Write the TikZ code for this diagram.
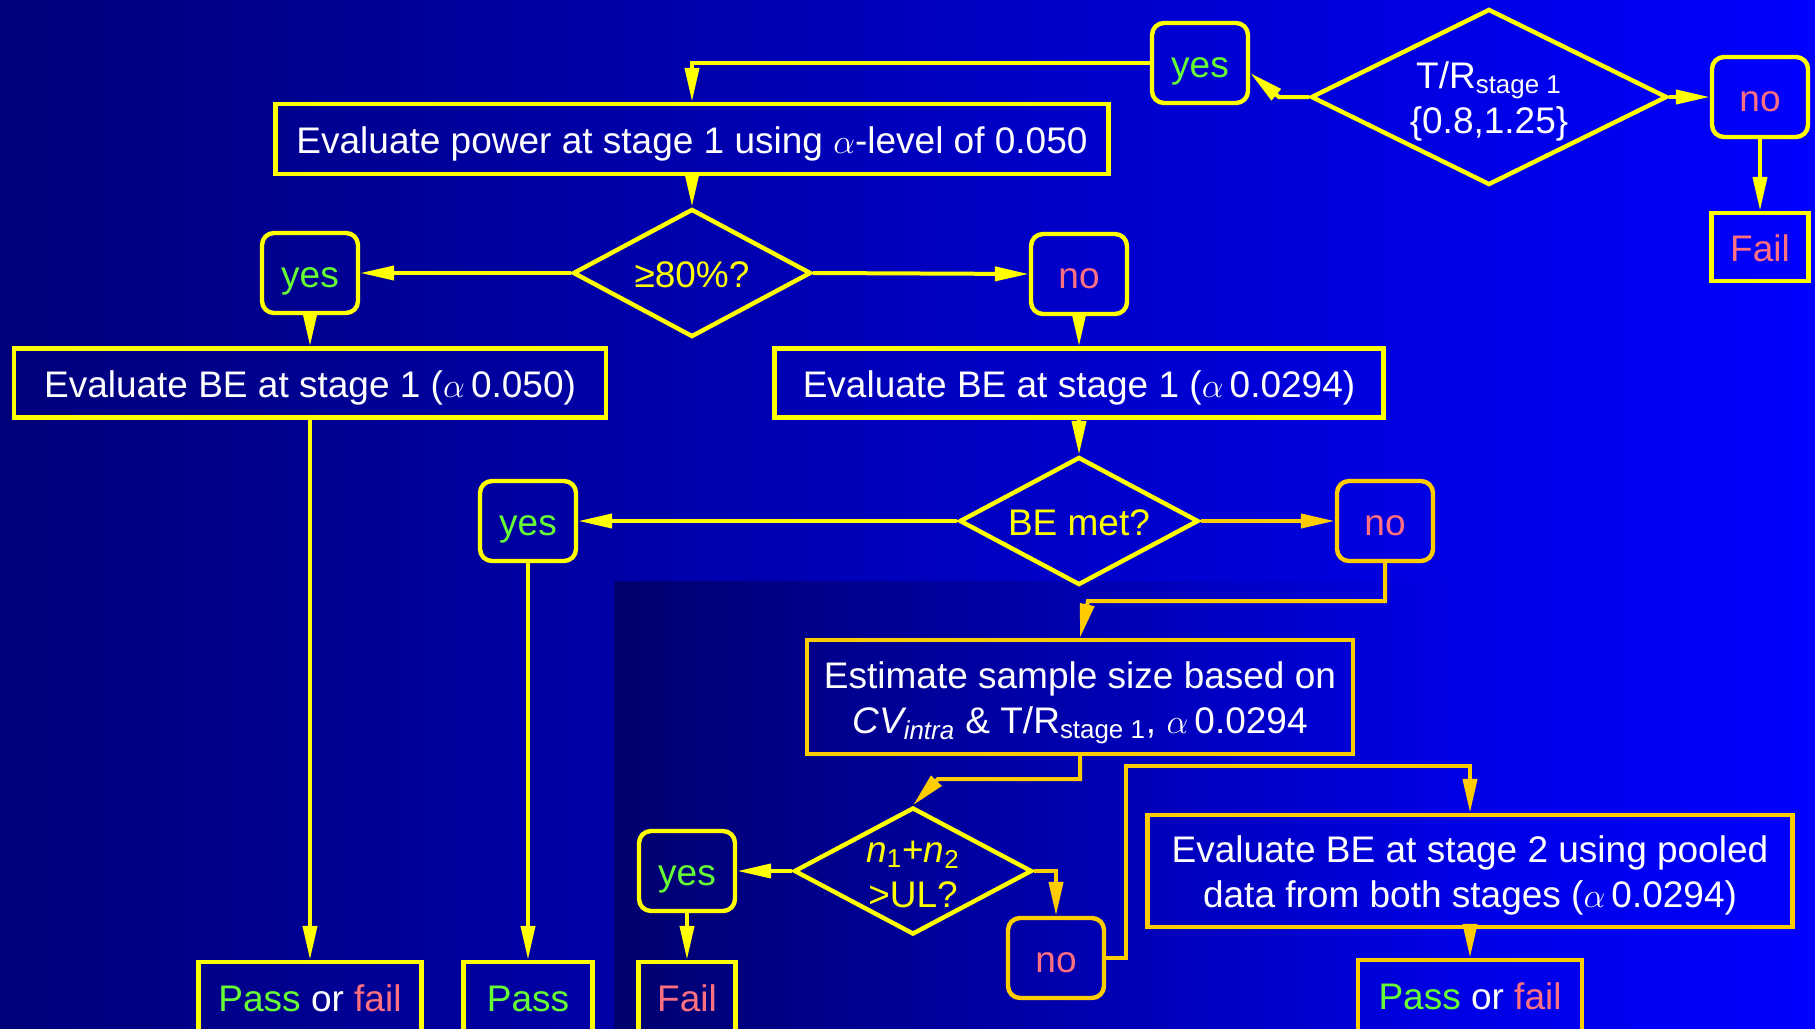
\documentclass[tikz,border=0pt]{standalone}
\usepackage{fontspec}
\setmainfont{Liberation Sans}
\usetikzlibrary{shapes.geometric,arrows.meta}

\definecolor{bgleft}{RGB}{0,0,122}
\definecolor{bgright}{RGB}{0,0,255}
\definecolor{insetleft}{RGB}{0,0,110}
\definecolor{insetright}{RGB}{0,0,232}
\definecolor{yel}{RGB}{255,255,0}
\definecolor{gold}{RGB}{255,204,0}
\definecolor{okgreen}{RGB}{102,255,51}
\definecolor{nopink}{RGB}{255,112,128}

\tikzset{
  panel/.style={draw=yel, line width=2.2pt, text=white, align=center, inner sep=0pt,
    font=\fontsize{18.5}{22.5}\selectfont, text height=14.5pt, text depth=0pt},
  twoline/.style={text height=36pt, text depth=0pt},
  answer/.style={panel, rounded corners=6pt, minimum width=48pt, minimum height=40pt},
  decision/.style={panel, diamond, aspect=2, text=yel},
  outcome/.style={panel, minimum height=40pt, text height=9.5pt},
  flow/.style={yel, line width=2pt, -{Triangle[length=17pt,width=7pt]}},
}
\newcommand{\yes}{\textcolor{okgreen}{yes}}
\newcommand{\no}{\textcolor{nopink}{no}}

\begin{document}
\begin{tikzpicture}[x=0.5pt,y=-0.5pt]
\useasboundingbox (0,0) rectangle (1815,1028);
\clip (0,0) rectangle (1815,1028);
\shade[left color=bgleft,right color=bgright] (0,0) rectangle (1815,1028);
\shade[left color=insetleft,right color=insetright] (614,581) rectangle (1480,1028);

% stage 1 ratio check
\node[answer] (yes1) at (1200,63) {\yes};
\node[decision, twoline, text=white, minimum width=178pt, minimum height=88pt] (tr) at (1489,97) {T/R\textsubscript{stage 1}\\\{0.8,1.25\}};
\node[answer] (no1) at (1760,97) {\no};
\node[panel, minimum width=48.5pt, minimum height=34pt] (fail1) at (1760,247) {\textcolor{nopink}{Fail}};

% power
\node[panel, minimum width=416.5pt, minimum height=35pt] (power) at (692,139) {Evaluate power at stage 1 using $\alpha$-level of 0.050};
\node[decision, minimum width=119pt, minimum height=64pt] (d80) at (692,273) {≥80\%?};
\node[answer] (yes2) at (310,273) {\yes};
\node[answer] (no2) at (1079,274) {\no};
\node[panel, minimum width=296pt, minimum height=34.5pt] (be1) at (310,383) {Evaluate BE at stage 1 ($\alpha$\,0.050)};
\node[panel, minimum width=304.5pt, minimum height=34.5pt] (be2) at (1079,383) {Evaluate BE at stage 1 ($\alpha$\,0.0294)};

% BE at stage 1
\node[decision, minimum width=119.5pt, minimum height=64pt] (bemet) at (1079,521) {BE met?};
\node[answer] (yes3) at (528,521) {\yes};
\node[answer, draw=gold] (no3) at (1385,521) {\no};

% stage 2
\node[panel, twoline, draw=gold, minimum width=273pt, minimum height=57pt] (est) at (1080,697) {Estimate sample size based on\\{\itshape CV}\textsubscript{\itshape intra} \& T/R\textsubscript{stage 1}, $\alpha$\,0.0294};
\node[decision, twoline, minimum width=119pt, minimum height=63.5pt] (n12) at (913,871) {\textit{n}\textsubscript{1}+\textit{n}\textsubscript{2}\\>UL?};
\node[answer] (yes4) at (687,871) {\yes};
\node[answer, draw=gold] (no4) at (1056,958) {\no};
\node[panel, twoline, draw=gold, minimum width=322.5pt, minimum height=56pt] (st2) at (1470,871) {Evaluate BE at stage 2 using pooled\\data from both stages ($\alpha$\,0.0294)};

% outcomes
\node[outcome, minimum width=111.5pt] (pf1) at (310,1002) {\textcolor{okgreen}{Pass} or \textcolor{nopink}{fail}};
\node[outcome, minimum width=64.5pt] (pass) at (528,1002) {\textcolor{okgreen}{Pass}};
\node[outcome, minimum width=48.5pt] (fail2) at (687,1002) {\textcolor{nopink}{Fail}};
\node[outcome, draw=gold, minimum width=112pt] (pf2) at (1470,1000) {\textcolor{okgreen}{Pass} or \textcolor{nopink}{fail}};

\coordinate (trbend) at (1279,97);
\coordinate (estin) at (1088,601);
\coordinate (n12in) at (938,779);
\coordinate (st2in) at (1126,766);

\draw[flow] (yes1.west) -| (power.north);
\draw[flow] (tr.west) -- (trbend) -- ([yshift=-5pt]yes1.east);
\draw[flow] (tr.east) -- (no1.west);
\draw[flow] (no1.south) -- (fail1.north);
\draw[flow] (power.south) -- (d80.north);
\draw[flow] (d80.west) -- (yes2.east);
\draw[flow] (d80.east) -- (no2.west);
\draw[flow] (yes2.south) -- (be1.north);
\draw[flow] (no2.south) -- (be2.north);
\draw[flow] (be1.south) -- (pf1.north);
\draw[flow] (be2.south) -- (bemet.north);
\draw[flow] (bemet.west) -- (yes3.east);
\draw[flow, gold] (bemet.east) -- (no3.west);
\draw[flow] (yes3.south) -- (pass.north);
\draw[flow, gold] (no3.south) |- (estin) -- (est.north);
\draw[flow, gold] (est.south) |- (n12in) -- (n12.north);
\draw[flow] (n12.west) -- (yes4.east);
\draw[flow, gold] (n12.east) -| (no4.north);
\draw[flow] (yes4.south) -- (fail2.north);
\draw[flow, gold] (no4.east) -| (st2in) -| (st2.north);
\draw[flow, gold] (st2.south) -- (pf2.north);
\end{tikzpicture}
\end{document}
